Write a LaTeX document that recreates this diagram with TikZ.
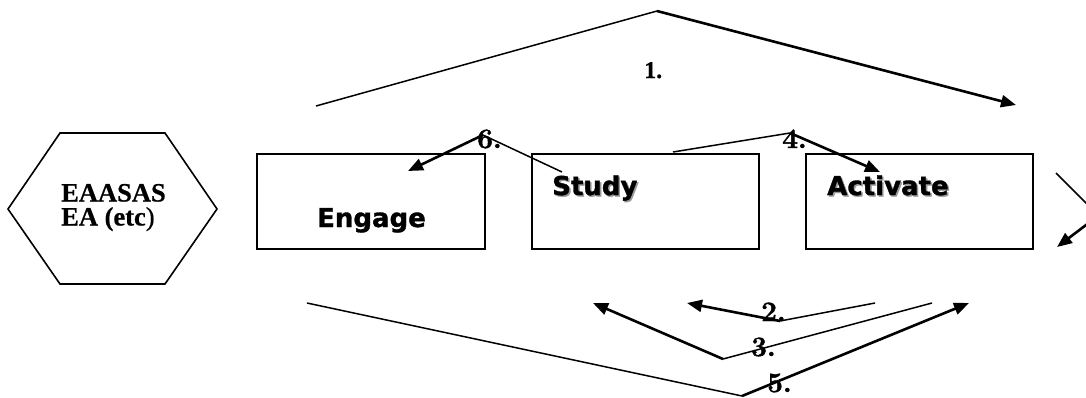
\documentclass[tikz,border=0pt]{standalone}
\usepackage{fontspec}
\usetikzlibrary{arrows.meta}
\newfontfamily\vfont[FakeBold=1.2]{DejaVu Sans}
\newfontfamily\tfont[FakeBold=0.6]{Liberation Serif}
\newfontfamily\nfont[FakeBold=1.5]{Latin Modern Roman}
\begin{document}
\begin{tikzpicture}[x=1pt,y=-1pt,
  box/.style={draw,line width=2pt,minimum width=227pt,minimum height=95pt,inner sep=0pt},
  boxtext/.style={font=\vfont\bfseries\fontsize{26}{28}\selectfont,inner sep=0pt},
  hextext/.style={font=\tfont\bfseries\fontsize{26.5}{28}\selectfont,inner sep=0pt,anchor=base west},
  num/.style={font=\nfont\bfseries\fontsize{28}{29}\selectfont,inner sep=0pt,anchor=base west},
  thin/.style={line width=1.5pt},
  thick/.style={line width=2.6pt,-{Triangle[length=15pt,width=12pt]}}]
\clip (0,0) rectangle (1086,397);
\fill[white] (0,0) rectangle (1086,397);
% hexagon
\draw[line width=1.6pt] (8,209) -- (60,133) -- (165,133) -- (217,209) -- (165,284) -- (60,284) -- cycle;
\node[hextext] (hex1) at (61,201.5) {EAASAS};
\node[hextext] (hex2) at (61,225.5) {EA (etc\mdseries)};
% boxes
\node[box,minimum width=228pt] (engage) at (371,201.5) {};
\node[box] (study) at (645.5,201.5) {};
\node[box] (activate) at (919.5,201.5) {};
\node[boxtext,anchor=base] (engt) at (371.5,227) {Engage};
\node[boxtext,anchor=base west,text=black!40] (studys) at (553.5,196.5) {Study};
\node[boxtext,anchor=base west] (studyt) at (552,195) {Study};
\node[boxtext,anchor=base west,text=black!40] (acts) at (828.5,196.5) {Activate};
\node[boxtext,anchor=base west] (actt) at (827,195) {Activate};
% coordinates
\coordinate (a1s) at (316,106); \coordinate (a1m) at (657,11); \coordinate (a1e) at (1016,105);
\coordinate (a6s) at (562,172); \coordinate (a6m) at (483,135); \coordinate (a6e) at (408,171);
\coordinate (a4s) at (673,152); \coordinate (a4m) at (790,133); \coordinate (a4e) at (880,172);
\coordinate (a2s) at (875,303); \coordinate (a2m) at (780,321); \coordinate (a2e) at (687,303);
\coordinate (a3s) at (932,303); \coordinate (a3m) at (723,359); \coordinate (a3e) at (593,303);
\coordinate (a5s) at (307,303); \coordinate (a5m) at (742,396); \coordinate (a5e) at (969,303);
\coordinate (ars) at (1056,173); \coordinate (arm) at (1098.5,215.5); \coordinate (are) at (1057,247);
% labels
\node[num,font=\tfont\bfseries\fontsize{24}{25}\selectfont] (l1) at (644,78) {1.};
\node[num] (l6) at (477,148) {6.};
\node[num] (l4) at (782,148) {4.};
\node[num] (l2) at (761,321) {2.};
\node[num] (l3) at (751,356) {3.};
\node[num] (l5) at (767,392) {5.};
% arrows
\draw[thin] (a1s) -- (a1m); \draw[thick] (a1m) -- (a1e);
\draw[thin] (a6s) -- (a6m); \draw[thick] (a6m) -- (a6e);
\draw[thin] (a4s) -- (a4m); \draw[thick] (a4m) -- (a4e);
\draw[thin] (a2s) -- (a2m); \draw[thick] (a2m) -- (a2e);
\draw[thin] (a3s) -- (a3m); \draw[thick] (a3m) -- (a3e);
\draw[thin] (a5s) -- (a5m); \draw[thick] (a5m) -- (a5e);
\draw[thin] (ars) -- (arm); \draw[thick] (arm) -- (are);
\end{tikzpicture}
\end{document}
